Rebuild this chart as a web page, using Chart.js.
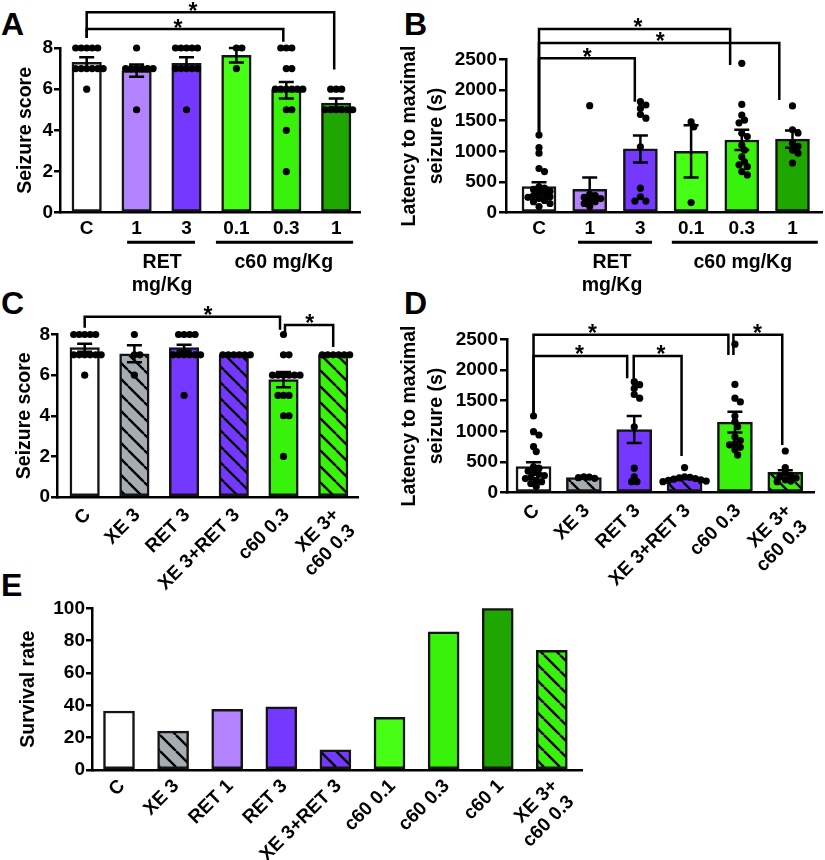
<!DOCTYPE html>
<html>
<head>
<meta charset="utf-8">
<script src="https://cdn.jsdelivr.net/npm/chart.js@4.4.1/dist/chart.umd.min.js"></script>
<style>
  html, body { margin: 0; padding: 0; background: #fff; }
  #fig { position: relative; width: 825px; height: 860px; overflow: hidden; }
  canvas { position: absolute; }
  .tag { position: absolute; font: bold 32px "Liberation Sans", Arial, sans-serif; line-height: 32px; color: #000; }
</style>
</head>
<body>
<div id="fig">
  <div class="tag" style="left:1px;top:8px">A</div>
  <div class="tag" style="left:404px;top:8px">B</div>
  <div class="tag" style="left:1px;top:287px">C</div>
  <div class="tag" style="left:404px;top:287px">D</div>
  <div class="tag" style="left:1px;top:569px">E</div>
  <canvas id="cA" width="405" height="300" style="left:0;top:0"></canvas>
  <canvas id="cB" width="430" height="300" style="left:395px;top:0"></canvas>
  <canvas id="cC" width="405" height="302" style="left:0;top:290px"></canvas>
  <canvas id="cD" width="430" height="302" style="left:395px;top:290px"></canvas>
  <canvas id="cE" width="825" height="285" style="left:0;top:575px"></canvas>
</div>
<script>
var FONT = '"Liberation Sans", Arial, sans-serif';
Chart.defaults.font.family = FONT;
Chart.defaults.font.weight = 'bold';
Chart.defaults.color = '#000';

// categories
var doseCats = ['C', '1', '3', '0.1', '0.3', '1'];
var comboCats = ['C', 'XE 3', 'RET 3', 'XE 3+RET 3', 'c60 0.3', ['XE 3+', 'c60 0.3']];
var survCats = ['C', 'XE 3', 'RET 1', 'RET 3', 'XE 3+RET 3', 'c60 0.1', 'c60 0.3', 'c60 1', ['XE 3+', 'c60 0.3']];

// A: seizure score by dose
var scoreMeanA = [7.3, 6.9, 7.25, 7.65, 5.95, 5.33];
var scoreSemA = [0.25, 0.3, 0.3, 0.35, 0.4, 0.22];
var scoreDotsA = [
  [8, 8, 8, 8, 8, 7, 7, 7, 7, 7, 7, 6],
  [8, 7, 7, 7, 7, 7, 7, 5],
  [8, 8, 8, 8, 8, 7, 7, 7, 7, 7, 5],
  [8, 8, 7],
  [8, 8, 8, 7, 7, 6, 6, 6, 6, 6, 6, 5, 5, 4, 2],
  [6, 6, 6, 5, 5, 5, 5, 5, 5]
];

// B: latency to maximal seizure by dose
var latMeanB = [425, 380, 1040, 1000, 1185, 1200];
var latSemB = [70, 195, 220, 425, 165, 140];
var latDotsB = [
  [1265, 1060, 970, 720, 670, 420, 400, 380, 350, 330, 300, 280, 260, 250, 230, 200, 180, 150, 100],
  [1745, 300, 280, 250, 230, 200, 180, 150, 100],
  [1810, 1755, 1700, 1600, 1540, 1075, 400, 260, 190, 190],
  [1480, 1400, 165],
  [2435, 1765, 1590, 1510, 1465, 1295, 1240, 1100, 1020, 910, 830, 780, 750, 670, 615],
  [1740, 1350, 1300, 1130, 1080, 1020, 970, 810]
];

// C: seizure score, XE combinations
var scoreMeanC = [7.35, 7.05, 7.35, 7.0, 5.78, 7.0];
var scoreSemC = [0.2, 0.42, 0.15, 0, 0.38, 0];
var scoreDotsC = [
  [8, 8, 8, 8, 8, 7, 7, 7, 7, 7, 7, 6],
  [8, 7, 7, 6],
  [8, 8, 8, 8, 7, 7, 7, 7, 7, 7, 5],
  [7, 7, 7, 7, 7, 7],
  [8, 7, 7, 6, 6, 6, 6, 6, 6, 5, 5, 5, 4, 4, 2],
  [7, 7, 7, 7, 7, 7]
];

// D: latency, XE combinations
var latMeanD = [425, 245, 1030, 245, 1150, 330];
var latSemD = [70, 0, 220, 20, 170, 35];
var latDotsD = [
  [1250, 995, 940, 750, 670, 420, 400, 350, 330, 300, 280, 250, 230, 200, 180, 150, 100],
  [260, 255, 245, 235],
  [1810, 1760, 1700, 1600, 1540, 1075, 400, 260, 180, 180],
  [410, 260, 250, 240, 230, 220, 210, 200, 190, 180],
  [2420, 1765, 1540, 1480, 1250, 1160, 1075, 910, 850, 800, 780, 740, 700, 615],
  [680, 410, 320, 280, 260, 240, 210, 190, 180]
];

// E: survival rate
var survival = [36.5, 24, 37.5, 39, 12.5, 32.5, 85.5, 100, 74];

var colC = '#ffffff', colRet1 = '#b383ff', colRet3 = '#7538ff';
var colC01 = '#47ff14', colC03 = '#38f20b', colC1 = '#1fa600', colXe = '#a5acb2';

function hatch(bg) {
  var s = 16, c = document.createElement('canvas');
  c.width = s; c.height = s;
  var g = c.getContext('2d');
  g.fillStyle = bg; g.fillRect(0, 0, s, s);
  g.strokeStyle = '#000'; g.lineWidth = 2.4;
  g.beginPath();
  for (var k = -1; k <= 1; k++) { g.moveTo(k * s, 0); g.lineTo(k * s + s, s); }
  g.stroke();
  return g.createPattern(c, 'repeat');
}

// beeswarm: spread dots with close values sideways (pixel units)
function swarm(ys, d) {
  var placed = [];
  return ys.map(function (y) {
    var dx = 0;
    for (var k = 0; k < 60; k++) {
      dx = k === 0 ? 0 : (k % 2 ? 1 : -1) * Math.ceil(k / 2) * d / 2;
      var ok = placed.every(function (q) {
        return (q[0] - dx) * (q[0] - dx) + (q[1] - y) * (q[1] - y) >= d * d * 0.98;
      });
      if (ok) break;
    }
    placed.push([dx, y]);
    return dx;
  });
}

function makePanel(p) {
  var cv = document.getElementById(p.id);
  var a = p.area;
  var pxY = (a[3] - a[1]) / p.yMax;
  var pxX = (a[2] - a[0]) / (p.xMax - p.xMin);
  var pts = [];
  (p.dots || []).forEach(function (vals, i) {
    var offs = swarm(vals.map(function (v) { return v * pxY; }), 5.5);
    vals.forEach(function (v, j) { pts.push({ x: i + offs[j] / pxX, y: v }); });
  });
  var datasets = [];
  if (pts.length) {
    datasets.push({ type: 'scatter', data: pts, pointRadius: 3.6, pointHoverRadius: 3.6,
      backgroundColor: '#000', borderWidth: 0, clip: false, order: 0 });
  }
  datasets.push({ type: 'bar', data: p.means.map(function (v, i) { return { x: i, y: v }; }),
    backgroundColor: p.fills, borderColor: '#141414', borderWidth: 2.5, borderSkipped: false,
    barThickness: p.barW, order: 1 });

  var extras = {
    id: 'extras',
    afterDatasetsDraw: function (chart) {
      var ctx = chart.ctx, xs = chart.scales.x, ys = chart.scales.y;
      ctx.save();
      ctx.strokeStyle = '#000'; ctx.fillStyle = '#000';
      ctx.lineWidth = 2.5; ctx.lineJoin = 'miter';
      // mean +/- SEM
      (p.sems || []).forEach(function (s, i) {
        if (!s) return;
        var x = xs.getPixelForValue(i);
        var y1 = ys.getPixelForValue(p.means[i] - s), y2 = ys.getPixelForValue(p.means[i] + s);
        ctx.beginPath();
        ctx.moveTo(x, y1); ctx.lineTo(x, y2);
        ctx.moveTo(x - 7.5, y1); ctx.lineTo(x + 7.5, y1);
        ctx.moveTo(x - 7.5, y2); ctx.lineTo(x + 7.5, y2);
        ctx.stroke();
      });
      // significance brackets: [from, to, level, leftEnd, rightEnd, starAt]
      ctx.font = 'bold 23px ' + FONT;
      ctx.textAlign = 'center'; ctx.textBaseline = 'alphabetic';
      (p.brackets || []).forEach(function (b) {
        var x1 = xs.getPixelForValue(b[0]), x2 = xs.getPixelForValue(b[1]), y = ys.getPixelForValue(b[2]);
        ctx.beginPath();
        ctx.moveTo(x1, ys.getPixelForValue(b[3])); ctx.lineTo(x1, y);
        ctx.lineTo(x2, y); ctx.lineTo(x2, ys.getPixelForValue(b[4]));
        ctx.stroke();
        ctx.fillText('*', xs.getPixelForValue(b[5]), y + 6.5);
      });
      // dose group labels under the axis
      ctx.font = 'bold 19.5px ' + FONT;
      (p.groups || []).forEach(function (g) {
        var yb = ys.bottom;
        ctx.lineWidth = 3;
        ctx.beginPath();
        ctx.moveTo(xs.getPixelForValue(g.from), yb + 29.5);
        ctx.lineTo(xs.getPixelForValue(g.to), yb + 29.5);
        ctx.stroke();
        g.text.forEach(function (t, k) {
          ctx.fillText(t, xs.getPixelForValue(g.at), yb + 55.5 + 22.5 * k);
        });
      });
      ctx.restore();
    }
  };

  return new Chart(cv, {
    type: 'bar',
    data: { datasets: datasets },
    options: {
      responsive: false, animation: false, devicePixelRatio: 1,
      events: [],
      layout: { autoPadding: false, padding: { left: 0, top: a[1], right: cv.width - a[2], bottom: 0 } },
      plugins: { legend: { display: false }, tooltip: { enabled: false } },
      scales: {
        x: {
          type: 'linear', min: p.xMin, max: p.xMax, offset: false,
          afterBuildTicks: function (s) { s.ticks = p.cats.map(function (c, i) { return { value: i }; }); },
          ticks: {
            autoSkip: false, minRotation: p.rot, maxRotation: p.rot, padding: p.tickPad,
            labelOffset: p.labelOffset || 0,
            font: { size: 19, weight: 'bold' }, color: '#000',
            callback: function (v) { return p.cats[v]; }
          },
          grid: { display: false, drawTicks: false },
          border: { display: true, color: '#000', width: 2.5 },
          afterFit: function (s) { s.height = cv.height - a[3]; }
        },
        y: {
          type: 'linear', min: 0, max: p.yMax,
          ticks: { stepSize: p.yStep, padding: p.yTickPad, font: { size: 19, weight: 'bold' }, color: '#000',
            callback: function (v) { return String(v); } },
          grid: { drawOnChartArea: false, drawTicks: true, tickLength: p.tickLen, color: '#000', lineWidth: 2.5 },
          border: { display: true, color: '#000', width: 2.5 },
          title: { display: true, text: p.title, color: '#000',
            font: { size: 19.5, weight: 'bold', lineHeight: 1.36 }, padding: { top: p.titlePad, bottom: 0 } },
          afterFit: function (s) { s.width = a[0]; }
        }
      }
    },
    plugins: [extras]
  });
}

makePanel({
  id: 'cA', area: [60, 48, 360, 212.7], xMin: -0.535, xMax: 5.477, yMax: 8, yStep: 2,
  cats: doseCats, means: scoreMeanA, sems: scoreSemA, dots: scoreDotsA,
  fills: [colC, colRet1, colRet3, colC01, colC03, colC1], barW: 29.5,
  rot: 0, tickPad: 4.4, yTickPad: 1, tickLen: 6, title: 'Seizure score', titlePad: 12.75,
  brackets: [[0, 4.96, 9.74, 8.48, 6.96, 2.13], [0, 3.94, 8.92, 8.48, 8.3, 1.83]],
  groups: [{ from: 0.81, to: 2.17, at: 1.51, text: ['RET', 'mg/Kg'] },
           { from: 2.59, to: 5.34, at: 3.95, text: ['c60 mg/Kg'] }]
});

makePanel({
  id: 'cB', area: [111, 59.3, 427, 212.7], xMin: -0.651, xMax: 5.582, yMax: 2500, yStep: 500,
  cats: doseCats, means: latMeanB, sems: latSemB, dots: latDotsB,
  fills: [colC, colRet1, colRet3, colC01, colC03, colC1], barW: 34,
  rot: 0, tickPad: 4.4, yTickPad: 2, tickLen: 7, title: ['Latency to maximal', 'seizure (s)'], titlePad: 1.75,
  brackets: [[0, 3.77, 2994, 1266, 2407, 1.95], [0, 4.74, 2766, 1266, 1837, 2.39], [0, 1.89, 2516, 1266, 1809, 0.95]],
  groups: [{ from: 0.77, to: 2.23, at: 1.44, text: ['RET', 'mg/Kg'] },
           { from: 2.62, to: 5.5, at: 4.02, text: ['c60 mg/Kg'] }]
});

makePanel({
  id: 'cC', area: [57, 44.5, 358, 207], xMin: -0.557, xMax: 5.499, yMax: 8, yStep: 2,
  cats: comboCats, means: scoreMeanC, sems: scoreSemC, dots: scoreDotsC,
  fills: [colC, hatch(colXe), colRet3, hatch(colRet3), colC03, hatch(colC03)], barW: 29.5,
  rot: 45, tickPad: 7, labelOffset: 3, yTickPad: 1, tickLen: 6, title: 'Seizure score', titlePad: 11.75,
  brackets: [[0, 3.93, 8.87, 8.33, 8.23, 2.48], [4.03, 5.0, 8.47, 8.08, 7.39, 4.53]]
});

makePanel({
  id: 'cD', area: [112, 49.3, 425, 202.7], xMin: -0.527, xMax: 5.586, yMax: 2500, yStep: 500,
  cats: comboCats, means: latMeanD, sems: latSemD, dots: latDotsD,
  fills: [colC, hatch(colXe), colRet3, hatch(colRet3), colC03, hatch(colC03)], barW: 35,
  rot: 45, tickPad: 7, labelOffset: 3, yTickPad: 2, tickLen: 7, title: ['Latency to maximal', 'seizure (s)'], titlePad: 1.75,
  brackets: [[0, 3.87, 2575, 1250, 2244, 1.17], [3.97, 4.94, 2575, 2244, 777, 4.45],
             [0, 1.86, 2228, 1250, 1864, 0.91], [1.99, 2.94, 2228, 1864, 598, 2.53]]
});

makePanel({
  id: 'cE', area: [92, 33.3, 582, 195], xMin: -0.499, xMax: 8.558, yMax: 100, yStep: 20,
  cats: survCats, means: survival,
  fills: [colC, hatch(colXe), colRet1, colRet3, hatch(colRet3), colC01, colC03, colC1, hatch(colC03)], barW: 31,
  rot: 45, tickPad: 5, labelOffset: 3, yTickPad: 1, tickLen: 6, title: 'Survival rate', titlePad: 15.25
});
</script>
</body>
</html>
